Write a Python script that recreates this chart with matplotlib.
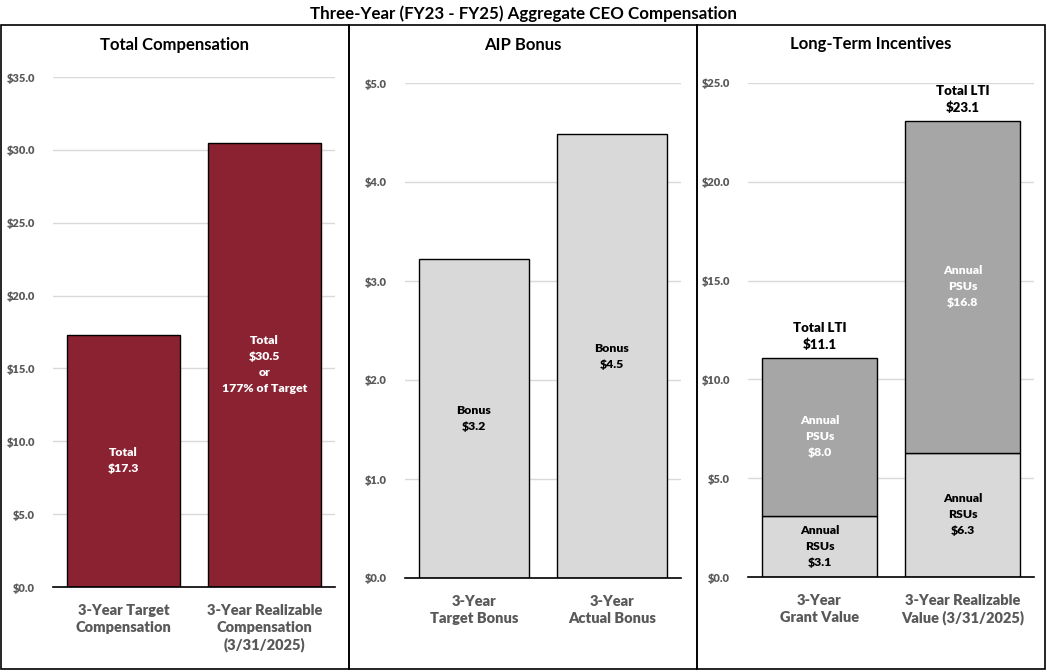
import matplotlib
matplotlib.use('Agg')
import matplotlib.pyplot as plt
from matplotlib.patches import Rectangle

plt.rcParams['font.family'] = ['Lato', 'DejaVu Sans']
plt.rcParams['font.weight'] = 'bold'

# data
tc_labels = ['3-Year Target\nCompensation', '3-Year Realizable\nCompensation\n(3/31/2025)']
tc_values = [17.3, 30.5]
tc_text = ['Total\n$17.3', 'Total\n$30.5\nor\n177% of Target']

aip_labels = ['3-Year\nTarget Bonus', '3-Year\nActual Bonus']
aip_values = [3.22, 4.48]

lti_labels = ['3-Year\nGrant Value', '3-Year Realizable\nValue (3/31/2025)']
lti_rsu = [3.1, 6.3]
lti_psu = [8.0, 16.8]

W, H = 1047, 672
MAROON = '#8B2232'
LIGHT = '#D9D9D9'
DARK = '#A6A6A6'
TICK = '#595959'
LW = 'heavy'
DL = 8.8  # data label size

fig = plt.figure(figsize=(W / 100, H / 100), dpi=100)


def px_axes(x0, x1, ytop, ybot):
    return fig.add_axes([x0 / W, 1 - ybot / H, (x1 - x0) / W, (ybot - ytop) / H])


# panel boxes
for x0, x1 in [(1, 349), (349, 697), (697, 1045)]:
    fig.patches.append(Rectangle((x0 / W, 1 - 669 / H), (x1 - x0) / W, (669 - 25) / H,
                                 transform=fig.transFigure, fill=False,
                                 edgecolor='black', linewidth=1.2))

fig.text(0.5, 1 - 14 / H, 'Three-Year (FY23 - FY25) Aggregate CEO Compensation',
         ha='center', va='center', fontsize=12.2, fontweight='bold')


def style(ax, ymax, step, labels):
    ax.set_xlim(-0.5, 1.5)
    ax.set_ylim(0, ymax)
    ticks = [i * step for i in range(int(round(ymax / step)) + 1)]
    ax.set_yticks(ticks)
    ax.set_yticklabels([f'${t:.1f}' for t in ticks], color=TICK, fontsize=8, fontweight=LW)
    ax.set_xticks([0, 1])
    ax.set_xticklabels(labels, color=TICK, fontsize=10.5, linespacing=1.35, fontweight=LW)
    ax.tick_params(axis='both', length=0)
    ax.tick_params(axis='y', pad=13)
    ax.tick_params(axis='x', pad=12)
    ax.grid(axis='y', color=LIGHT, linewidth=1)
    ax.set_axisbelow(True)
    for s in ['top', 'left', 'right']:
        ax.spines[s].set_visible(False)
    ax.spines['bottom'].set_linewidth(1.2)


# Total Compensation
ax1 = px_axes(53, 335, 77, 587)
ax1.bar([0, 1], tc_values, width=0.8, color=MAROON, edgecolor='black', linewidth=1)
for i, v in enumerate(tc_values):
    ax1.text(i, v / 2, tc_text[i], ha='center', va='center', color='white',
             fontsize=DL, fontweight=LW, linespacing=1.55)
style(ax1, 35, 5, tc_labels)
fig.text(175 / W, 1 - 45 / H, 'Total Compensation', ha='center', va='center',
         fontsize=12, fontweight='bold')

# AIP Bonus
ax2 = px_axes(405, 681, 83, 578)
ax2.bar([0, 1], aip_values, width=0.8, color=LIGHT, edgecolor='black', linewidth=1)
for i, v in enumerate(aip_values):
    ax2.text(i, v / 2, f'Bonus\n${v:.1f}', ha='center', va='center', color='black',
             fontsize=DL, fontweight=LW, linespacing=1.55)
style(ax2, 5, 1, aip_labels)
fig.text(523 / W, 1 - 45 / H, 'AIP Bonus', ha='center', va='center',
         fontsize=12, fontweight='bold')

# Long-Term Incentives
ax3 = px_axes(748, 1034, 83, 577)
ax3.bar([0, 1], lti_rsu, width=0.8, color=LIGHT, edgecolor='black', linewidth=1)
ax3.bar([0, 1], lti_psu, width=0.8, bottom=lti_rsu, color=DARK, edgecolor='black', linewidth=1)
for i in range(2):
    r, p = lti_rsu[i], lti_psu[i]
    ax3.text(i, r / 2, f'Annual\nRSUs\n${r:.1f}', ha='center', va='center', color='black',
             fontsize=DL, fontweight=LW, linespacing=1.55)
    ax3.text(i, r + p / 2, f'Annual\nPSUs\n${p:.1f}', ha='center', va='center', color='white',
             fontsize=DL, fontweight=LW, linespacing=1.55)
    ax3.annotate(f'Total LTI\n${r + p:.1f}', (i, r + p), xytext=(0, 5),
                 textcoords='offset points', ha='center', va='bottom',
                 fontsize=9.5, fontweight=LW, linespacing=1.4)
style(ax3, 25, 5, lti_labels)
fig.text(871 / W, 1 - 44 / H, 'Long-Term Incentives', ha='center', va='center',
         fontsize=12, fontweight='bold')

fig.savefig('out.png', dpi=100)
